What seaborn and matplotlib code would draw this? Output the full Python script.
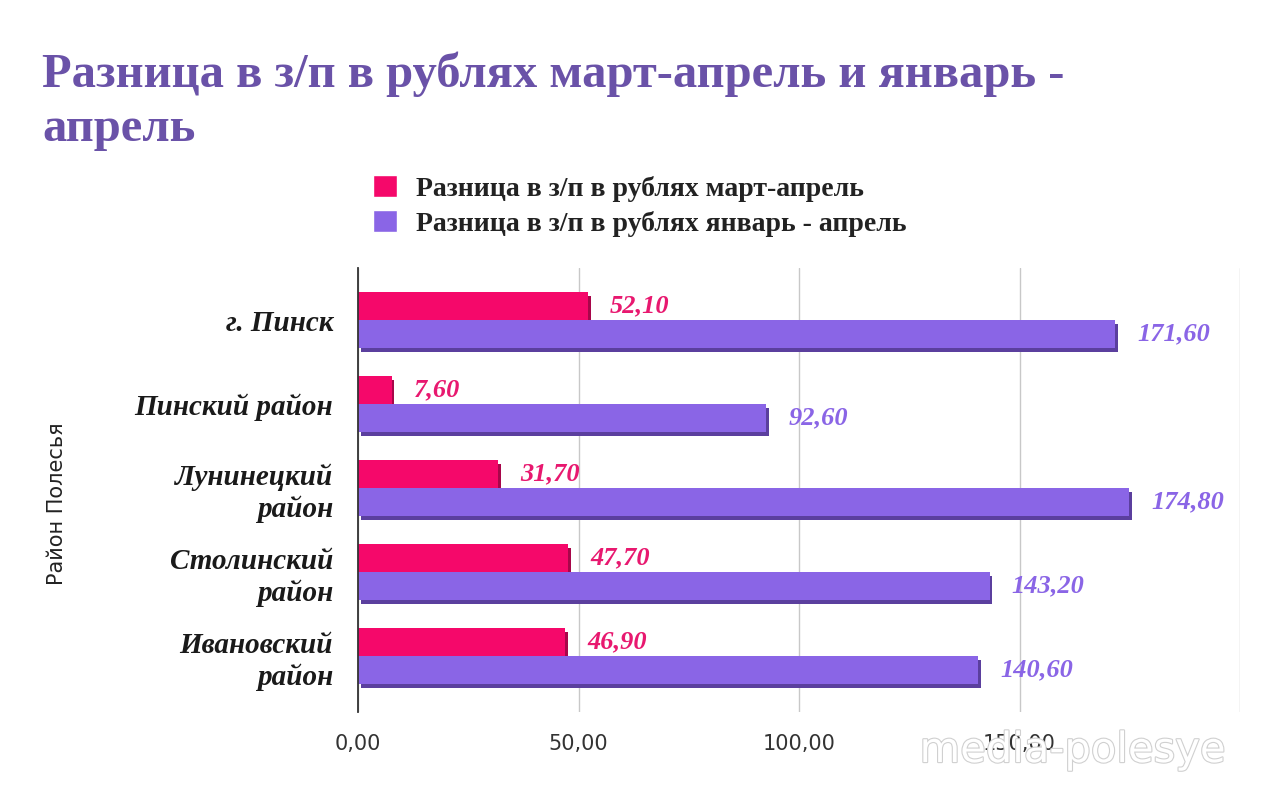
import matplotlib
matplotlib.use("Agg")
import matplotlib.pyplot as plt
import matplotlib.patheffects as pe
import seaborn as sns
import pandas as pd

categories = ["г. Пинск", "Пинский район", "Лунинецкий\nрайон", "Столинский\nрайон", "Ивановский\nрайон"]
series_names = ["Разница в з/п в рублях март-апрель", "Разница в з/п в рублях январь - апрель"]
mar_apr = [52.10, 7.60, 31.70, 47.70, 46.90]
jan_apr = [171.60, 92.60, 174.80, 143.20, 140.60]
x_ticks = [0, 50, 100, 150]
x_tick_labels = ["0,00", "50,00", "100,00", "150,00"]

colors = ["#f5086a", "#8a65e6"]
shadow = ["#a8064a", "#5b3f9e"]
label_colors = ["#e8186f", "#8a65e6"]

df = pd.DataFrame({
    "cat": categories * 2,
    "val": mar_apr + jan_apr,
    "series": [series_names[0]] * len(categories) + [series_names[1]] * len(categories),
})

sns.set_theme(style="white")
fig = plt.figure(figsize=(12.8, 7.9), dpi=100)
ax = fig.add_axes([0.2797, 0.0987, 0.6891, 0.5620])

sns.barplot(data=df, y="cat", x="val", hue="series", orient="h",
            palette=colors, width=0.66, ax=ax, legend=True, saturation=1)

for i, cont in enumerate(ax.containers):
    for bar in cont:
        bar.set_edgecolor("none")
        bar.set_path_effects([pe.SimplePatchShadow(offset=(2, -3), shadow_rgbFace=shadow[i], alpha=1), pe.Normal()])
    labels = [f"{v:.2f}".replace(".", ",") for v in cont.datavalues]
    ax.bar_label(cont, labels=labels, padding=16, color=label_colors[i],
                 fontsize=19, fontweight="bold", fontstyle="italic", family="Liberation Serif")

ax.set_xlim(0, 200)
ax.set_ylim(4.667, -0.619)
ax.set_xticks(x_ticks + [200])
ax.set_xticklabels(x_tick_labels + [""])
ax.xaxis.grid(True, color="#c8c8c8", linewidth=1)
ax.set_axisbelow(True)
for s in ["top", "right", "bottom"]:
    ax.spines[s].set_visible(False)
ax.spines["left"].set_color("#333333")
ax.spines["left"].set_linewidth(1.3)
ax.tick_params(axis="x", labelsize=15, colors="#333333", pad=16, length=0)
ax.tick_params(axis="y", length=0, pad=18)
for t in ax.get_xticklabels():
    t.set_family("DejaVu Sans")
for t in ax.get_yticklabels():
    t.set_family("Liberation Serif")
    t.set_fontweight("bold")
    t.set_fontstyle("italic")
    t.set_fontsize(21)
    t.set_color("#1a1a1a")
    t.set_horizontalalignment("right")
    t.set_multialignment("right")

ax.set_xlabel("")
ax.set_ylabel("Район Полесья", fontsize=15, color="#222222", family="DejaVu Sans")
ax.yaxis.set_label_coords(-0.33, 0.47)

handles, lbls = ax.get_legend_handles_labels()
ax.legend_.remove()
fig.legend(handles, lbls, loc="upper center", bbox_to_anchor=(0.5, 0.81), ncol=1, frameon=False,
           prop={"family": "Liberation Serif", "weight": "bold", "size": 20},
           handlelength=0.85, handleheight=0.85, handletextpad=0.7, labelspacing=0.3, labelcolor="#222222")

fig.text(0.033, 0.935, "Разница в з/п в рублях март-апрель и январь -\nапрель",
         ha="left", va="top", fontsize=35, fontweight="bold", family="Liberation Serif",
         color="#6a52a8", linespacing=1.3)

fig.text(0.957, 0.024, "media-polesye", ha="right", va="bottom", fontsize=30,
         family="DejaVu Sans", color="white",
         path_effects=[pe.withStroke(linewidth=1.6, foreground="#d0d0d0")])

fig.savefig("out.png", dpi=100, facecolor="white")
